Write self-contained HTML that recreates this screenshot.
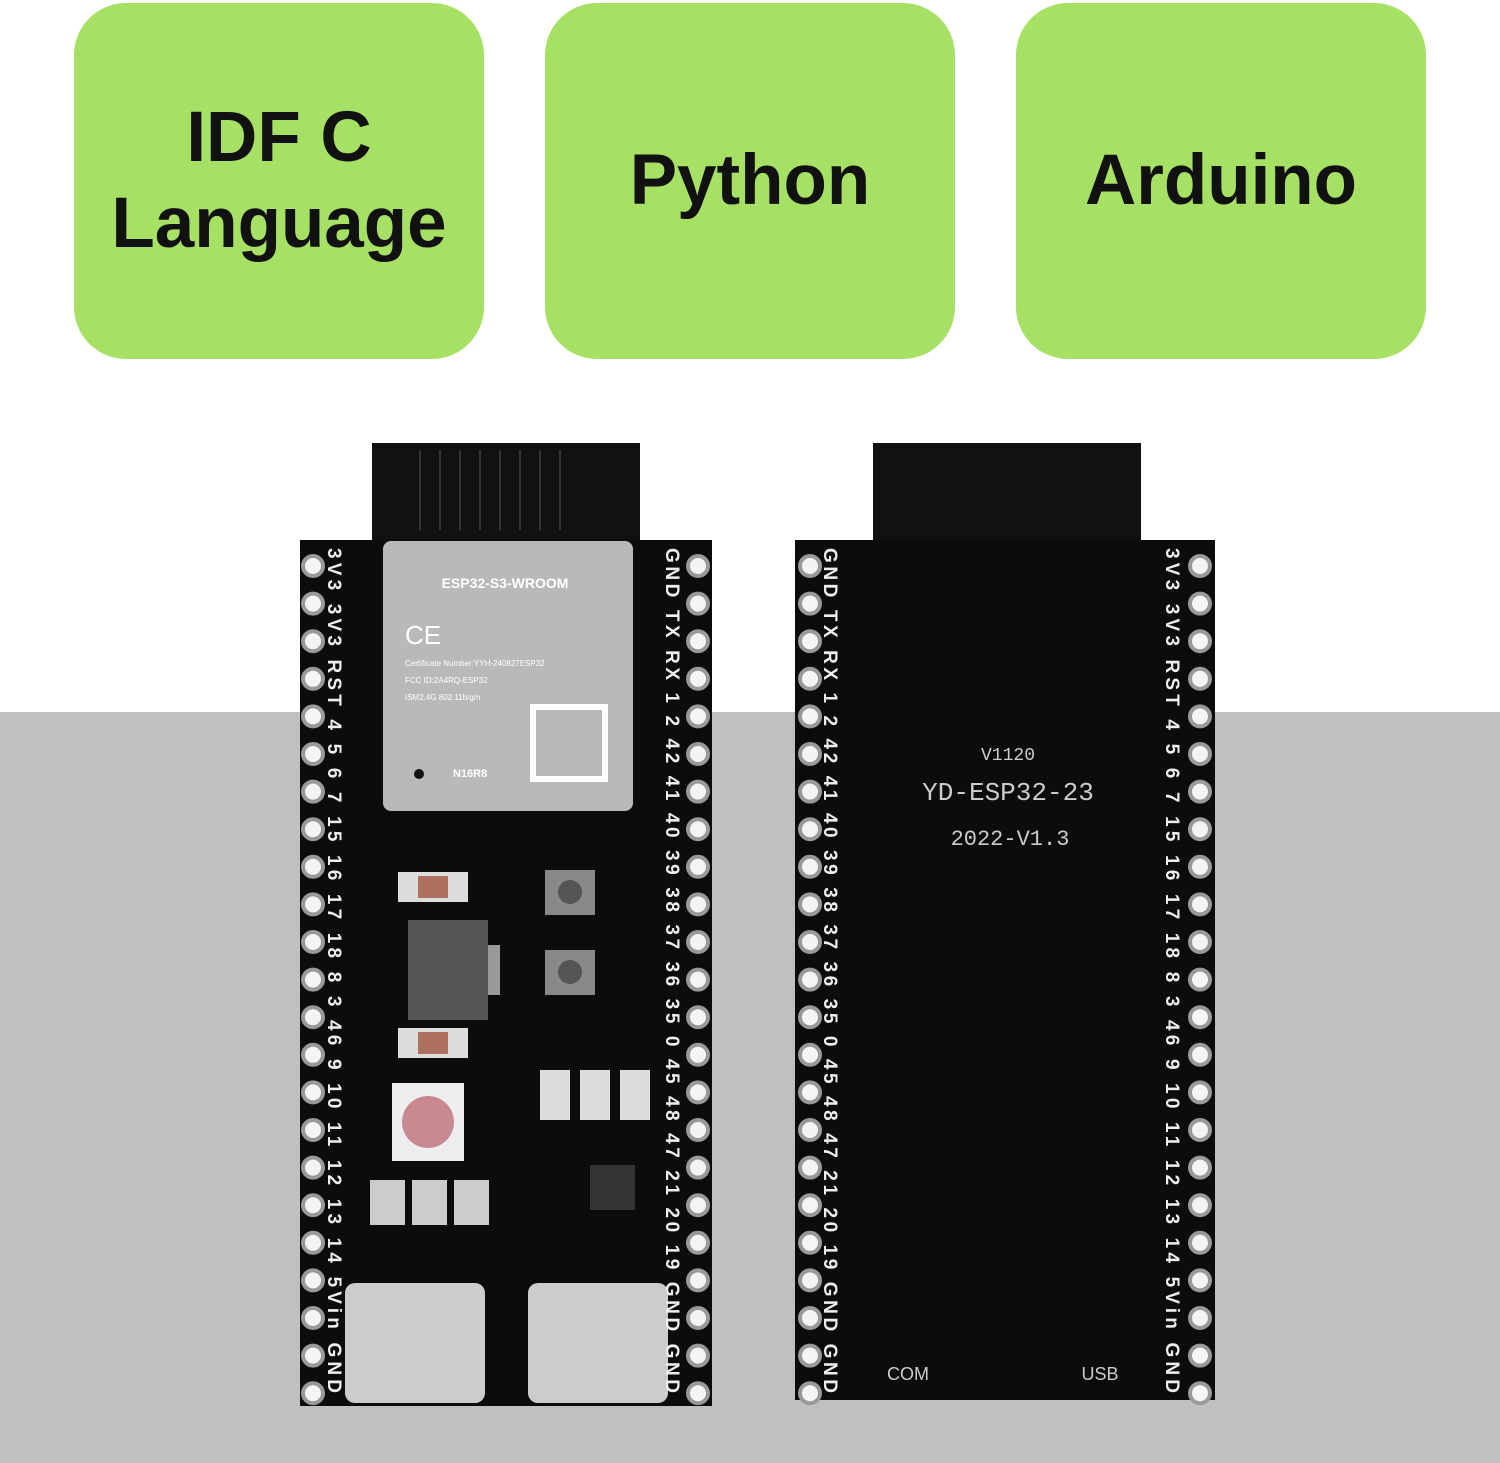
<!DOCTYPE html>
<html><head><meta charset="utf-8"><style>
html,body{margin:0;padding:0}
body{width:1500px;height:1463px;position:relative;background:#fff;overflow:hidden;font-family:"Liberation Sans",sans-serif}
.gray{position:absolute;left:0;top:712px;width:1500px;height:751px;background:#c0c0c0}
.box{position:absolute;top:3px;width:410px;height:356px;background:#a6e064;border-radius:52px;display:flex;align-items:center;justify-content:center;text-align:center;font-weight:bold;font-size:71px;line-height:86px;color:#111}
svg{position:absolute;left:0;top:0}
</style></head><body>
<div class="gray"></div>
<div class="box" style="left:74px">IDF C<br>Language</div>
<div class="box" style="left:545px">Python</div>
<div class="box" style="left:1016px">Arduino</div>
<svg width="1500" height="1463" viewBox="0 0 1500 1463" font-family="Liberation Sans, sans-serif">
<rect x="372" y="443" width="268" height="110" fill="#111"/>
<g stroke="#333" stroke-width="2"><line x1="420" y1="450" x2="420" y2="530"/><line x1="440" y1="450" x2="440" y2="530"/><line x1="460" y1="450" x2="460" y2="530"/><line x1="480" y1="450" x2="480" y2="530"/><line x1="500" y1="450" x2="500" y2="530"/><line x1="520" y1="450" x2="520" y2="530"/><line x1="540" y1="450" x2="540" y2="530"/><line x1="560" y1="450" x2="560" y2="530"/></g>
<rect x="300" y="540" width="412" height="866" fill="#0c0c0c"/>
<rect x="383" y="541" width="250" height="270" rx="8" fill="#b9b9b9"/>
<text x="505" y="588" fill="#fff" font-size="14" font-weight="bold" text-anchor="middle">ESP32-S3-WROOM</text>
<text x="405" y="644" fill="#fff" font-size="26">CE</text>
<text x="405" y="666" fill="#fff" font-size="8">Certificate Number:YYH-240827ESP32</text>
<text x="405" y="683" fill="#fff" font-size="8">FCC ID:2A4RQ-ESP32</text>
<text x="405" y="700" fill="#fff" font-size="8">ISM2.4G 802.11b/g/n</text>
<text x="453" y="777" fill="#fff" font-size="11" font-weight="bold">N16R8</text>
<rect x="530" y="704" width="78" height="78" fill="#fff"/><rect x="536" y="710" width="66" height="66" fill="#b9b9b9"/>
<circle cx="419" cy="774" r="5" fill="#111"/>
<rect x="398" y="872" width="70" height="30" fill="#ddd"/><rect x="418" y="876" width="30" height="22" fill="#b07060"/>
<rect x="398" y="1028" width="70" height="30" fill="#ddd"/><rect x="418" y="1032" width="30" height="22" fill="#b07060"/>
<rect x="408" y="920" width="80" height="100" fill="#555"/><rect x="488" y="945" width="12" height="50" fill="#999"/>
<rect x="545" y="870" width="50" height="45" fill="#888"/><circle cx="570" cy="892" r="12" fill="#555"/>
<rect x="545" y="950" width="50" height="45" fill="#888"/><circle cx="570" cy="972" r="12" fill="#555"/>
<rect x="392" y="1083" width="72" height="78" fill="#eee"/><circle cx="428" cy="1122" r="26" fill="#c88a90"/>
<rect x="540" y="1070" width="30" height="50" fill="#ddd"/><rect x="580" y="1070" width="30" height="50" fill="#ddd"/><rect x="620" y="1070" width="30" height="50" fill="#ddd"/>
<rect x="590" y="1165" width="45" height="45" fill="#333"/>
<rect x="370" y="1180" width="35" height="45" fill="#ccc"/><rect x="412" y="1180" width="35" height="45" fill="#ccc"/><rect x="454" y="1180" width="35" height="45" fill="#ccc"/>
<rect x="345" y="1283" width="140" height="120" rx="10" fill="#ccc"/><rect x="528" y="1283" width="140" height="120" rx="10" fill="#ccc"/>
<rect x="873" y="443" width="268" height="110" fill="#111"/>
<rect x="795" y="540" width="420" height="860" fill="#0c0c0c"/>
<text x="1008" y="760" fill="#ccc" font-size="18" text-anchor="middle" font-family="Liberation Mono">V1120</text>
<text x="1008" y="800" fill="#ccc" font-size="26" text-anchor="middle" font-family="Liberation Mono">YD-ESP32-23</text>
<text x="1010" y="845" fill="#ccc" font-size="22" text-anchor="middle" font-family="Liberation Mono">2022-V1.3</text>
<text x="908" y="1380" fill="#ccc" font-size="18" text-anchor="middle">COM</text>
<text x="1100" y="1380" fill="#ccc" font-size="18" text-anchor="middle">USB</text>
<g id="holes" fill="#f4f4f4" stroke="#999" stroke-width="4"></g>
<g fill="#eee" font-size="19" font-weight="bold" id="lbl">
<text transform="translate(328,548) rotate(90)">3V3 3V3 RST 4 5 6 7 15 16 17 18 8 3 46 9 10 11 12 13 14 5Vin GND</text>
<text transform="translate(666,548) rotate(90)">GND TX RX 1 2 42 41 40 39 38 37 36 35 0 45 48 47 21 20 19 GND GND</text>
<text transform="translate(824,548) rotate(90)">GND TX RX 1 2 42 41 40 39 38 37 36 35 0 45 48 47 21 20 19 GND GND</text>
<text transform="translate(1166,548) rotate(90)">3V3 3V3 RST 4 5 6 7 15 16 17 18 8 3 46 9 10 11 12 13 14 5Vin GND</text>
</g>
</svg>
<script>
var g=document.getElementById('holes'),s='';
[313,698,810,1200].forEach(function(x){for(var i=0;i<23;i++){var y=566+i*37.6;s+='<circle cx="'+x+'" cy="'+y+'" r="10"/>';}});
g.innerHTML=s;
document.querySelectorAll('#lbl text').forEach(function(t){t.setAttribute('textLength','845');});
</script>
</body></html>
